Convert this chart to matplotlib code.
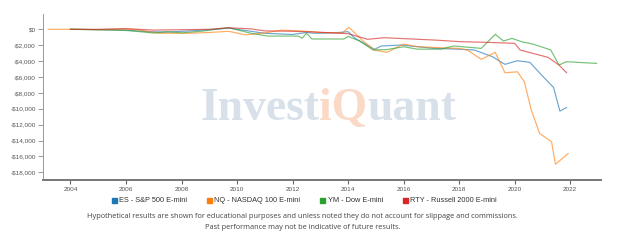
import matplotlib
matplotlib.use("Agg")
import matplotlib.pyplot as plt
from matplotlib.lines import Line2D

# ---------------- data ----------------
es_x = [2004.0, 2005.0, 2006.0, 2006.8, 2007.5, 2008.3, 2009.0, 2009.7, 2010.3, 2011.0,
        2012.0, 2012.5, 2012.8, 2013.5, 2014.0, 2014.25, 2014.95, 2015.2, 2015.9, 2016.5,
        2017.1, 2018.1, 2018.55, 2019.2, 2019.65, 2020.1, 2020.55, 2020.97, 2021.4,
        2021.63, 2021.87]
es_y = [0, -50, -100, -300, -350, -200, -50, 150, -150, -500,
        -650, -400, -500, -450, -300, -1130, -2520, -2100, -1980, -2190,
        -2400, -2520, -2610, -3450, -4410, -3960, -4160, -5760, -7310,
        -10300, -9840]

nq_x = [2003.2, 2004.0, 2005.0, 2006.0, 2006.5, 2007.2, 2008.3, 2009.0, 2009.7, 2010.3,
        2011.0, 2011.6, 2012.5, 2013.0, 2013.8, 2014.02, 2014.2, 2014.5, 2014.95, 2015.4,
        2016.0, 2016.5, 2017.35, 2017.95, 2018.3, 2018.8, 2019.3, 2019.65, 2020.1,
        2020.35, 2020.6, 2020.9, 2021.33, 2021.47, 2021.93]
nq_y = [0, 0, -50, 50, -100, -500, -500, -400, -250, -700,
        -450, -100, -250, -400, -450, 250, -300, -1350, -2610, -2900,
        -1850, -2190, -2320, -2400, -2610, -3780, -2900, -5470, -5350,
        -6610, -10180, -13110, -14170, -16990, -15640]

ym_x = [2004.0, 2005.0, 2006.0, 2006.5, 2007.0, 2007.5, 2008.0, 2008.7, 2009.7, 2010.5,
        2011.1, 2012.2, 2012.35, 2012.5, 2012.7, 2013.85, 2014.0, 2014.4, 2014.9, 2015.4,
        2016.0, 2016.5, 2017.35, 2017.8, 2018.8, 2019.3, 2019.6, 2019.9, 2020.25,
        2020.7, 2021.3, 2021.6, 2021.86, 2022.95]
ym_y = [0, -50, -150, -300, -470, -300, -450, -250, 200, -500,
        -850, -850, -1130, -500, -1220, -1220, -900, -1450, -2600, -2550,
        -2200, -2500, -2500, -2100, -2400, -630, -1480, -1140, -1560,
        -1900, -2600, -4500, -4080, -4290]

rty_x = [2004.0, 2005.0, 2006.0, 2007.0, 2008.0, 2009.0, 2009.7, 2010.5, 2011.0, 2012.0,
         2012.8, 2014.0, 2014.7, 2015.3, 2016.1, 2017.1, 2018.05, 2019.0, 2020.0,
         2020.2, 2021.2, 2021.6, 2021.87]
rty_y = [0, 0, 80, -100, -50, 0, 200, 50, -200, -250,
         -340, -550, -1260, -1060, -1190, -1350, -1560, -1640, -1770,
         -2610, -3530, -4500, -5470]

series_labels = ["ES - S&P 500 E-mini", "NQ - NASDAQ 100 E-mini",
                 "YM - Dow E-mini", "RTY - Russell 2000 E-mini"]
series_colors = ["#1f77b4", "#ff7f0e", "#2ca02c", "#d62728"]

x_ticks = [2004, 2006, 2008, 2010, 2012, 2014, 2016, 2018, 2020, 2022]
y_ticks = [0, -2000, -4000, -6000, -8000, -10000, -12000, -14000, -16000, -18000]

footnote1 = ("Hypothetical results are shown for educational purposes and unless noted "
             "they do not account for slippage and commissions.")
footnote2 = "Past performance may not be indicative of future results."

# ---------------- figure ----------------
W, H = 621, 242
fig = plt.figure(figsize=(W / 100, H / 100), dpi=100)
fig.patch.set_facecolor("white")

left, right, top, bottom = 42.7, 600.7, 14, 180
ax = fig.add_axes([left / W, 1 - bottom / H, (right - left) / W, (bottom - top) / H])
ax.set_xlim(2003.0, 2023.1)
ax.set_ylim(-18970, 1926)

for xs, ys, c in zip([es_x, nq_x, ym_x, rty_x], [es_y, nq_y, ym_y, rty_y], series_colors):
    ax.plot(xs, ys, color=c, lw=0.85, alpha=0.65, zorder=3)

tick_font = dict(family="Liberation Sans", size=4.6, color="#555555")
ax.set_xticks(x_ticks)
ax.set_xticklabels([str(t) for t in x_ticks], fontdict=tick_font)
ax.set_yticks(y_ticks)


def money(v):
    v = int(round(v))
    return ("-$" if v < 0 else "$") + f"{abs(v):,}"


ax.set_yticklabels([money(v) for v in y_ticks], fontdict=tick_font)
ax.tick_params(axis="x", length=3, width=0.8, color="#666666", pad=2)
ax.tick_params(axis="y", length=3.5, width=0.6, color="#888888", pad=1.5)

for s in ["top", "right"]:
    ax.spines[s].set_visible(False)
ax.spines["left"].set_color("#999999")
ax.spines["left"].set_linewidth(0.7)
ax.spines["bottom"].set_color("#777777")
ax.spines["bottom"].set_linewidth(1.4)

# ---------------- watermark ----------------
wm_blue = "#d8e0e9"
wm_orange = "#fad9c7"
wm_parts = [("Invest", wm_blue), ("iQ", wm_orange), ("uant", wm_blue)]
fig.canvas.draw()
renderer = fig.canvas.get_renderer()
wm_size = 33
probe = fig.text(0, 0, "InvestiQuant", family="Liberation Serif", weight="bold", size=wm_size)
wpx = probe.get_window_extent(renderer).width
probe.remove()
wm_size = wm_size * 257.0 / wpx
xcur = 200.0
for txt, col in wm_parts:
    t = fig.text(xcur / W, 1 - 120.0 / H, txt, family="Liberation Serif", weight="bold",
                 size=wm_size, color=col, ha="left", va="baseline", zorder=0)
    xcur += t.get_window_extent(renderer).width

# ---------------- legend ----------------
handles = [Line2D([], [], marker="s", linestyle="none", markersize=3.6,
                  markerfacecolor=c, markeredgecolor=c) for c in series_colors]
fig.legend(handles, series_labels, loc="center", bbox_to_anchor=(304 / W, 1 - 200.7 / H),
           ncol=4, frameon=False, prop={"family": "Liberation Sans", "size": 5.3},
           handlelength=0.7, handletextpad=0.4, columnspacing=2.6, borderpad=0,
           labelcolor="#333333")

# ---------------- footnotes ----------------
fn = dict(family="Open Sans", size=5.3, color="#444444", ha="center", va="center")
fig.text(302 / W, 1 - 216.3 / H, footnote1, **fn)
fig.text(303 / W, 1 - 227.3 / H, footnote2, **fn)

fig.savefig("out.png", dpi=100, facecolor="white")
